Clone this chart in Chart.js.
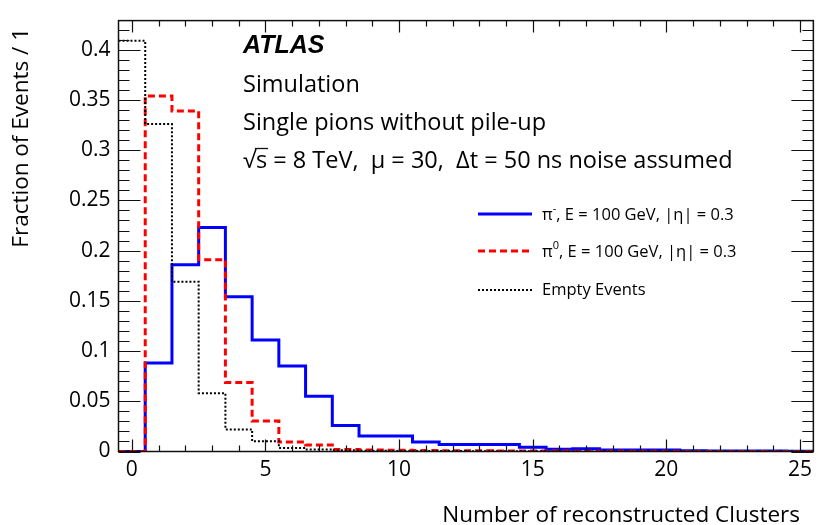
<!DOCTYPE html>
<html>
<head>
<meta charset="utf-8">
<title>Number of reconstructed clusters</title>
<script src="https://cdn.jsdelivr.net/npm/chart.js@4.4.1/dist/chart.umd.min.js"></script>
<style>
    html, body { margin: 0; padding: 0; background: #fff; }
    #wrap { width: 818px; height: 525px; }
</style>
</head>
<body>
<div id="wrap"><canvas id="clusterChart" width="818" height="525"></canvas></div>
<script>
// --- DATA (one bin per cluster count, bins centred on 0..25) ---
const clusterBins = [0, 1, 2, 3, 4, 5, 6, 7, 8, 9, 10, 11, 12, 13, 14, 15, 16, 17, 18, 19, 20, 21, 22, 23, 24, 25];
const piMinusFrac = [0, 0.088, 0.186, 0.223, 0.154, 0.111, 0.085, 0.055, 0.026, 0.0155, 0.0155, 0.0095, 0.007, 0.007, 0.007, 0.0042,
    0.0022, 0.0027, 0.0016, 0.0015, 0.0014, 0.0008, 0.0006, 0.0005, 0.0004, 0.0003];
const piZeroFrac = [0, 0.354, 0.339, 0.191, 0.0686, 0.0304, 0.0095, 0.0065, 0.002, 0.0015, 0.0012, 0.001, 0.0008, 0.0007, 0.0006, 0.0005,
    0.0004, 0.0003, 0.0003, 0.0002, 0.0002, 0.0001, 0.0001, 0.0001, 0.0001, 0.0001];
const emptyFrac = [0.409, 0.326, 0.169, 0.058, 0.022, 0.0102, 0.0034, 0.002, 0.0012, 0.0008, 0.0006, 0.0005, 0.0004, 0.0003, 0.0002, 0.0002,
    0.0001, 0.0001, 0.0001, 0.0001, 0, 0, 0, 0, 0, 0];
const xTickValues = [0, 5, 10, 15, 20, 25];
const yTickValues = [0, 0.05, 0.1, 0.15, 0.2, 0.25, 0.3, 0.35, 0.4];

// --- STYLE ---
const FONT = '"Open Sans", "DejaVu Sans", sans-serif';

// histogram outline: left edge of every bin, then the right edge of the last one
function histPoints(values) {
    const pts = clusterBins.map((c, i) => ({ x: c - 0.5, y: values[i] }));
    const last = clusterBins.length - 1;
    pts.push({ x: clusterBins[last] + 0.5, y: values[last] });
    return pts;
}

function histDataset(label, values, color, width, dash) {
    return {
        label,
        data: histPoints(values),
        borderColor: color,
        borderWidth: width,
        borderDash: dash,
        stepped: true,
        tension: 0,
        pointRadius: 0,
        fill: false,
    };
}

// ROOT style frame, inward ticks, labels and legend
const rootFramePlugin = {
    id: 'rootFrame',
    afterDraw(chart) {
        const { ctx, chartArea: area, scales: { x, y } } = chart;
        ctx.save();

        // frame
        ctx.strokeStyle = '#111';
        ctx.lineWidth = 1.5;
        ctx.strokeRect(area.left, area.top, area.right - area.left, area.bottom - area.top);

        // ticks
        ctx.lineWidth = 1.2;
        ctx.beginPath();
        for (let v = 0; v <= x.max; v += 1) {
            const px = Math.round(x.getPixelForValue(v)) + 0.5;
            const len = v % 5 === 0 ? 12 : 6;
            ctx.moveTo(px, area.bottom); ctx.lineTo(px, area.bottom - len);
            ctx.moveTo(px, area.top); ctx.lineTo(px, area.top + len);
        }
        for (let i = 0; i * 0.01 <= y.max; i++) {
            const py = Math.round(y.getPixelForValue(i * 0.01)) + 0.5;
            const len = i % 5 === 0 ? 22 : 11;
            ctx.moveTo(area.left, py); ctx.lineTo(area.left + len, py);
            ctx.moveTo(area.right, py); ctx.lineTo(area.right - len, py);
        }
        ctx.stroke();

        // axis titles
        ctx.fillStyle = '#000';
        ctx.font = `22.5px ${FONT}`;
        ctx.textAlign = 'right';
        ctx.textBaseline = 'alphabetic';
        ctx.fillText('Number of reconstructed Clusters', 800, 522);
        ctx.save();
        ctx.translate(28, 28);
        ctx.rotate(-Math.PI / 2);
        ctx.fillText('Fraction of Events / 1', 0, 0);
        ctx.restore();

        // ATLAS label block
        ctx.textAlign = 'left';
        ctx.font = 'italic bold 25px "Liberation Sans", Arial, sans-serif';
        ctx.fillText('ATLAS', 243, 53);
        ctx.font = `23.5px ${FONT}`;
        ctx.fillText('Simulation', 243, 92);
        ctx.fillText('Single pions without pile-up', 243, 130);
        const rootW = ctx.measureText('\u221A').width;
        ctx.fillText('\u221A', 243, 168);
        const sW = ctx.measureText('s').width;
        ctx.fillText('s', 243 + rootW, 168);
        ctx.lineWidth = 1.3;
        ctx.beginPath();
        ctx.moveTo(243 + rootW - 1, 148.5);
        ctx.lineTo(243 + rootW + sW + 1, 148.5);
        ctx.stroke();
        ctx.fillText(' = 8 TeV,  \u03BC = 30,  \u0394t = 50 ns noise assumed', 243 + rootW + sW, 168);

        // legend
        const entries = [
            { ds: chart.data.datasets[2], sup: '-', rest: ', E = 100 GeV, |\u03B7| = 0.3', ly: 214, ty: 219.5 },
            { ds: chart.data.datasets[1], sup: '0', rest: ', E = 100 GeV, |\u03B7| = 0.3', ly: 251, ty: 256.5 },
            { ds: chart.data.datasets[0], sup: null, rest: 'Empty Events', ly: 290, ty: 295 },
        ];
        entries.forEach(e => {
            ctx.strokeStyle = e.ds.borderColor;
            ctx.lineWidth = e.ds.borderWidth;
            ctx.setLineDash(e.ds.borderDash || []);
            ctx.beginPath();
            ctx.moveTo(478, e.ly);
            ctx.lineTo(532, e.ly);
            ctx.stroke();
            ctx.setLineDash([]);
            ctx.fillStyle = '#000';
            let tx = 542;
            if (e.sup !== null) {
                ctx.font = `16.5px ${FONT}`;
                ctx.fillText('\u03C0', tx, e.ty);
                tx += ctx.measureText('\u03C0').width;
                ctx.font = `11px ${FONT}`;
                ctx.fillText(e.sup, tx, e.ty - 8);
                tx += ctx.measureText(e.sup).width;
            }
            ctx.font = `16.5px ${FONT}`;
            ctx.fillText(e.rest, tx, e.ty);
        });

        ctx.restore();
    }
};

const ctx = document.getElementById('clusterChart').getContext('2d');
new Chart(ctx, {
    type: 'line',
    data: {
        datasets: [
            histDataset('Empty Events', emptyFrac, '#000000', 2, [2, 2]),
            histDataset('\u03C0\u2070, E = 100 GeV, |\u03B7| = 0.3', piZeroFrac, '#ff0000', 3, [7, 4]),
            histDataset('\u03C0\u207B, E = 100 GeV, |\u03B7| = 0.3', piMinusFrac, '#0000ff', 3, []),
        ]
    },
    options: {
        responsive: false,
        animation: false,
        devicePixelRatio: 1,
        layout: { padding: { top: 11, right: -7, left: 0, bottom: 0 } },
        scales: {
            x: {
                type: 'linear',
                min: -0.5,
                max: 25.5,
                afterBuildTicks: (scale) => { scale.ticks = xTickValues.map(value => ({ value })); },
                afterFit: (scale) => { scale.height = 73.5; },
                grid: { display: false, drawTicks: false },
                border: { display: false },
                ticks: {
                    autoSkip: false,
                    maxRotation: 0,
                    padding: 6,
                    color: '#000',
                    font: { family: FONT, size: 21 },
                    callback: (v) => String(v)
                }
            },
            y: {
                type: 'linear',
                min: 0,
                max: 0.429,
                afterBuildTicks: (scale) => { scale.ticks = yTickValues.map(value => ({ value })); },
                afterFit: (scale) => { scale.width = 118.5; },
                grid: { display: false, drawTicks: false },
                border: { display: false },
                ticks: {
                    autoSkip: false,
                    padding: 8,
                    color: '#000',
                    font: { family: FONT, size: 21 },
                    callback: (v) => String(+v.toFixed(2))
                }
            }
        },
        plugins: {
            legend: { display: false },
            tooltip: { enabled: false }
        }
    },
    plugins: [rootFramePlugin]
});
</script>
</body>
</html>
